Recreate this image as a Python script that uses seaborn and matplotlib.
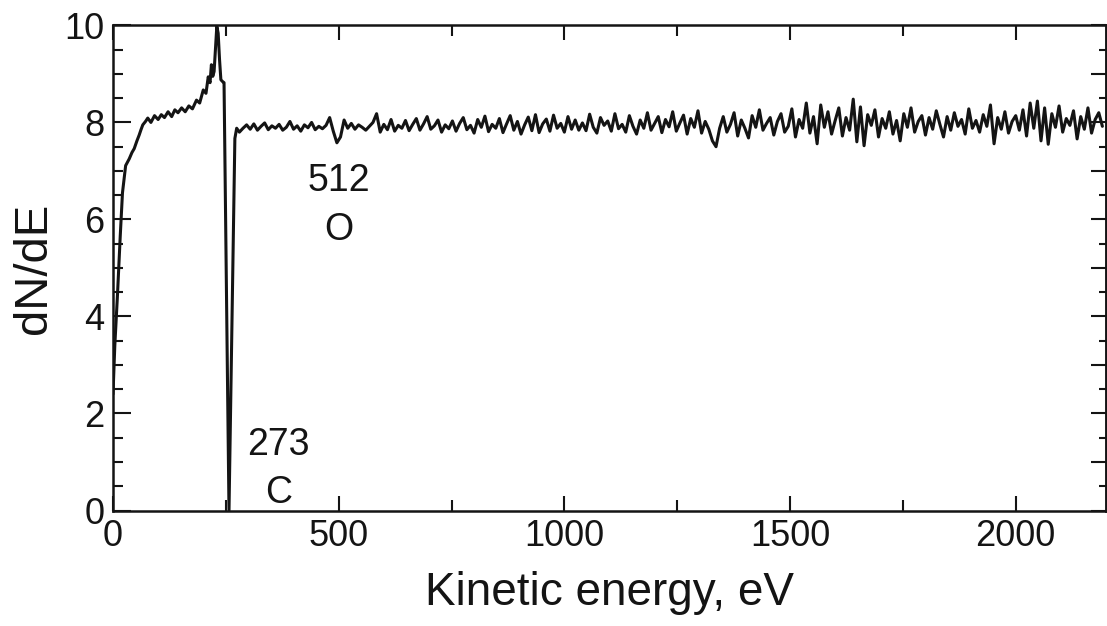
import numpy as np
import pandas as pd
import matplotlib
matplotlib.use("Agg")
import matplotlib.pyplot as plt
import seaborn as sns
from matplotlib.ticker import MultipleLocator

# low-energy part: steep rise, broad hump, C peak and the deep C dip
pre_ev = [0, 4, 10, 16, 21, 28, 36, 42, 47, 53,
          58, 62, 66, 72, 77, 84, 92, 100, 107, 114,
          122, 130, 137, 144, 152, 160, 168, 176, 185, 192,
          200, 206, 211, 215, 218, 221, 224, 227, 230, 233,
          236, 239, 243, 246, 257, 270, 274]
pre_dnde = [2.4, 3.4, 4.46, 5.65, 6.55, 7.11, 7.25, 7.38, 7.46, 7.62,
            7.74, 7.85, 7.95, 8.02, 8.09, 8.0, 8.14, 8.06, 8.16, 8.1,
            8.22, 8.12, 8.26, 8.2, 8.3, 8.22, 8.34, 8.28, 8.46, 8.4,
            8.67, 8.6, 8.94, 8.82, 9.19, 8.95, 9.05, 9.5, 9.98, 9.84,
            9.3, 8.88, 8.84, 8.82, 0.0, 7.67, 7.88]

# flat noisy part, one reading every 8 eV from 280 eV
tail_ev = np.arange(280, 2200, 8)
tail_dnde = [
    7.80, 7.88, 7.95, 7.86, 7.97, 7.84, 7.92, 7.99, 7.85, 7.93, 7.88, 7.96,
    7.84, 7.90, 8.02, 7.86, 7.93, 7.82, 7.95, 7.89, 8.00, 7.85, 7.92, 7.87,
    7.94, 8.10, 7.82, 7.58, 7.70, 8.05, 7.88, 7.98, 7.86, 7.95, 7.90, 7.84,
    7.92, 8.00, 8.18, 7.80, 7.96, 7.85, 8.06, 7.82, 7.94, 7.88, 8.04, 7.83,
    7.96, 8.08, 7.84, 7.97, 8.12, 7.86, 7.93, 8.05, 7.80, 7.95, 7.87, 8.03,
    7.82, 7.98, 8.10, 7.85, 7.94, 7.78, 8.06, 7.90, 8.13, 7.81, 7.96, 7.88,
    8.08, 7.79, 7.97, 8.14, 7.84, 8.02, 7.76, 7.95, 8.11, 7.83, 8.16, 7.79,
    7.97, 8.07, 7.82, 8.15, 7.88, 7.98, 7.80, 8.12, 7.86, 8.05, 7.84, 7.99,
    7.83, 8.17, 7.90, 7.78, 8.10, 7.94, 8.03, 7.82, 8.18, 7.87, 7.96, 7.80,
    8.14, 7.92, 7.76, 8.05, 7.88, 8.20, 7.84, 7.98, 8.12, 7.79, 8.06, 7.91,
    8.22, 7.82, 7.99, 8.15, 7.76, 8.08, 7.90, 8.24, 7.78, 8.02, 7.86, 7.62,
    7.50, 7.88, 8.12, 7.80, 7.96, 8.20, 7.72, 8.05, 7.88, 7.68, 8.14, 7.90,
    8.26, 7.84, 7.98, 8.10, 7.74, 8.02, 8.18, 7.80, 7.92, 8.28, 7.70, 8.06,
    7.88, 8.40, 7.78, 8.12, 7.56, 8.36, 7.90, 8.22, 7.76, 8.04, 8.30, 7.72,
    8.10, 7.84, 8.48, 7.60, 8.32, 7.52, 8.16, 7.94, 8.26, 7.70, 8.08, 7.88,
    8.22, 7.76, 8.04, 7.62, 8.18, 7.90, 8.30, 7.80, 8.02, 8.14, 7.74, 8.10,
    7.86, 8.24, 7.96, 7.70, 8.12, 7.84, 8.20, 7.92, 8.06, 7.76, 8.28, 7.88,
    8.04, 7.80, 8.16, 7.92, 8.36, 7.56, 8.10, 7.86, 8.22, 7.78, 8.02, 8.14,
    7.84, 8.26, 7.72, 8.40, 7.88, 8.44, 7.62, 8.30, 7.55, 8.18, 7.90, 8.34,
    7.80, 8.08, 7.94, 8.24, 7.66, 8.12, 7.86, 8.30, 7.78, 8.06, 8.20, 7.92,
]

df = pd.DataFrame({
    "energy": np.concatenate([pre_ev, tail_ev]),
    "dNdE": np.concatenate([pre_dnde, tail_dnde]),
})

ink = "#141414"
sns.set_style("ticks")
plt.rcParams["font.family"] = ["Liberation Sans", "DejaVu Sans"]
plt.rcParams["text.color"] = ink
plt.rcParams["axes.labelcolor"] = ink

fig = plt.figure(figsize=(11.07, 6.26), dpi=100)
ax = fig.add_axes([113 / 1107, 0.1845, 993 / 1107, 0.7749])

sns.lineplot(data=df, x="energy", y="dNdE", ax=ax, color=ink,
             lw=2.2, estimator=None, sort=False)

ax.set_xlim(0, 2200)
ax.set_ylim(0, 10)
ax.xaxis.set_major_locator(MultipleLocator(500))
ax.xaxis.set_minor_locator(MultipleLocator(250))
ax.yaxis.set_major_locator(MultipleLocator(2))
ax.yaxis.set_minor_locator(MultipleLocator(0.5))

ax.tick_params(which="both", direction="in", top=True, right=False,
               width=1.5, colors=ink, labelsize=26, pad=6)
ax.tick_params(axis="y", which="major", length=13)
ax.tick_params(axis="y", which="minor", length=7)
ax.tick_params(axis="x", which="major", length=11)
ax.tick_params(axis="x", which="minor", length=8)

sec = ax.secondary_yaxis("right")
sec.yaxis.set_major_locator(MultipleLocator(1))
sec.yaxis.set_minor_locator(MultipleLocator(0.5))
sec.tick_params(which="both", direction="in", labelright=False, width=1.5,
                colors=ink)
sec.tick_params(which="major", length=11)
sec.tick_params(which="minor", length=5)
sec.spines["right"].set_linewidth(1.8)
sec.spines["right"].set_color(ink)

for s in ax.spines.values():
    s.set_linewidth(1.8)
    s.set_color(ink)

ax.set_xlabel("Kinetic energy, eV", fontsize=33, labelpad=12)
ax.set_ylabel("dN/dE", fontsize=34, labelpad=6)

ax.text(500, 6.58, "512", fontsize=27, ha="center", va="baseline")
ax.text(500, 5.58, "O", fontsize=27, ha="center", va="baseline")
ax.text(366, 1.14, "273", fontsize=27, ha="center", va="baseline")
ax.text(366, 0.16, "C", fontsize=27, ha="center", va="baseline")

fig.savefig("out.png", dpi=100)
